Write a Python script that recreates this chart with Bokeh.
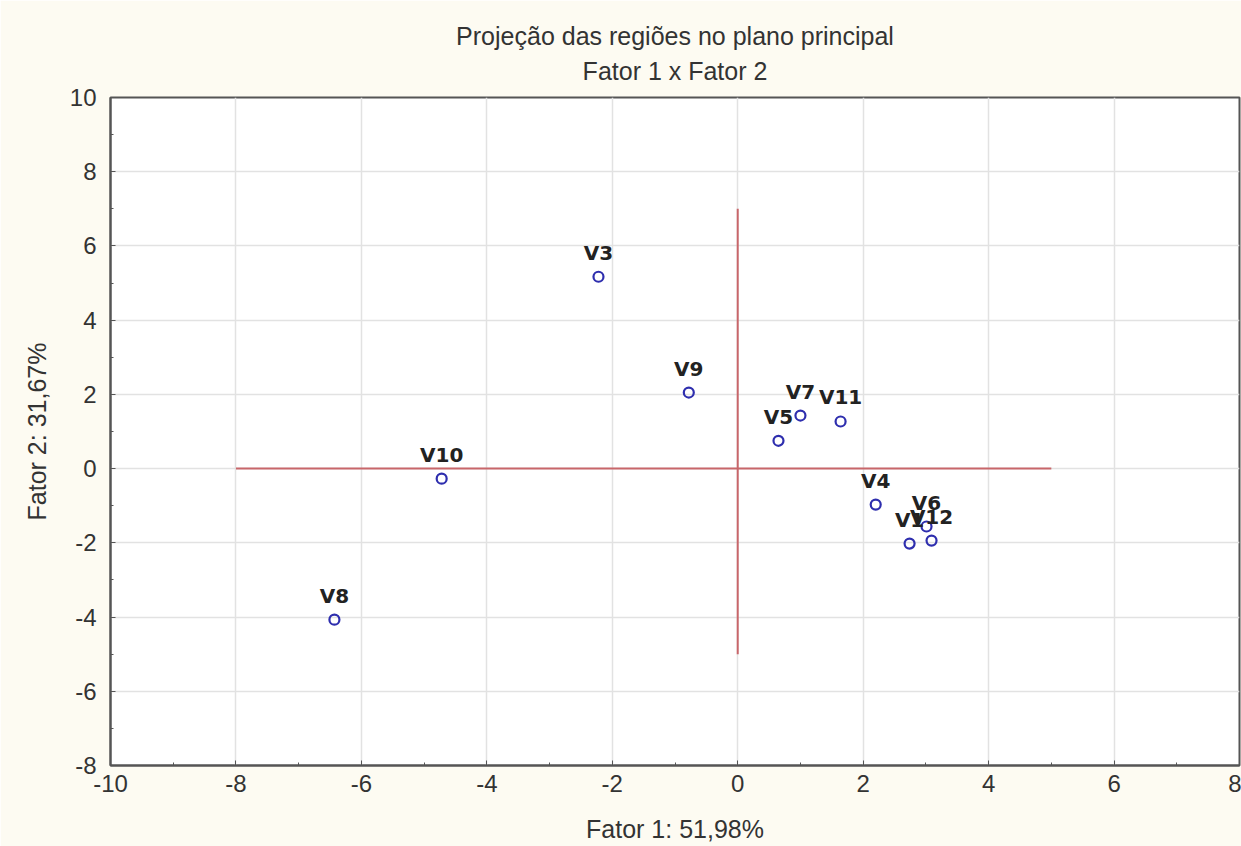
from bokeh.plotting import figure
from bokeh.models import ColumnDataSource, Title, Range1d, FixedTicker, PrintfTickFormatter
from bokeh.embed import file_html
from bokeh.resources import INLINE

# Data
names = ["V3", "V9", "V7", "V11", "V5", "V10", "V4", "V6", "V12", "V1", "V8"]
fator1 = [-2.22, -0.78, 1.00, 1.64, 0.65, -4.72, 2.20, 3.01, 3.09, 2.74, -6.43]
fator2 = [5.17, 2.05, 1.43, 1.27, 0.75, -0.27, -0.97, -1.56, -1.94, -2.02, -4.07]

hline_x = [-8, 5]
hline_y = [0, 0]
vline_x = [0, 0]
vline_y = [-5, 7]

x_ticks = [-10, -8, -6, -4, -2, 0, 2, 4, 6, 8]
y_ticks = [-8, -6, -4, -2, 0, 2, 4, 6, 8, 10]

title_lines = ["Projeção das regiões no plano principal", "Fator 1 x Fator 2"]

CREAM = "#FDFBF2"
FRAME = "#555555"
TXT = "#333333"

p = figure(width=1241, height=846, output_backend="svg", toolbar_location=None,
           x_range=Range1d(-10, 8), y_range=Range1d(-8, 10),
           background_fill_color="white", border_fill_color=CREAM,
           min_border_left=110, min_border_right=2, min_border_top=97, min_border_bottom=81)

p.outline_line_color = FRAME
p.outline_line_width = 2

src = ColumnDataSource(dict(x=fator1, y=fator2, name=names))

p.line(hline_x, hline_y, line_color="#C8666A", line_width=2)
p.line(vline_x, vline_y, line_color="#C8666A", line_width=2)

p.scatter("x", "y", source=src, marker="circle", size=10, fill_color=None,
          line_color="#2E2EAE", line_width=2.2)
p.text("x", "y", text="name", source=src, text_align="center", text_baseline="bottom",
       y_offset=-12, text_font_size="20px", text_font_style="bold",
       text_color="#222222", text_font={"value": "DejaVu Sans"})

for ax in [p.xaxis[0], p.yaxis[0]]:
    ax.axis_line_color = FRAME
    ax.axis_line_width = 2
    ax.major_tick_in = 5
    ax.major_tick_out = 0
    ax.minor_tick_in = 3
    ax.minor_tick_out = 0
    ax.major_tick_line_color = FRAME
    ax.minor_tick_line_color = FRAME
    ax.major_label_text_font = "Liberation Sans"
    ax.major_label_text_font_size = "24px"
    ax.major_label_text_color = TXT
    ax.axis_label_text_font = "Liberation Sans"
    ax.axis_label_text_font_size = "25px"
    ax.axis_label_text_font_style = "normal"
    ax.axis_label_text_color = TXT
    ax.formatter = PrintfTickFormatter(format="%d")

p.xaxis[0].ticker = FixedTicker(ticks=x_ticks, minor_ticks=list(range(-10, 9)))
p.yaxis[0].ticker = FixedTicker(ticks=y_ticks, minor_ticks=list(range(-8, 11)))
p.xaxis[0].axis_label = "Fator 1: 51,98%"
p.yaxis[0].axis_label = "Fator 2: 31,67%"
p.xaxis[0].major_label_standoff = 9
p.yaxis[0].major_label_standoff = 14
p.xaxis[0].axis_label_standoff = 20
p.yaxis[0].axis_label_standoff = 16

p.xgrid.ticker = FixedTicker(ticks=x_ticks)
p.ygrid.ticker = FixedTicker(ticks=y_ticks)
p.grid.grid_line_color = "#E2E2E2"
p.grid.grid_line_width = 1.5

p.add_layout(Title(text=title_lines[1], align="center", offset=-42,
                   text_font="Liberation Sans", text_font_size="25px",
                   text_font_style="normal", text_color=TXT, standoff=26), "above")
p.add_layout(Title(text=title_lines[0], align="center", offset=-42,
                   text_font="Liberation Sans", text_font_size="25px",
                   text_font_style="normal", text_color=TXT, standoff=-17), "above")

open("out.html", "w").write(file_html(p, INLINE))
